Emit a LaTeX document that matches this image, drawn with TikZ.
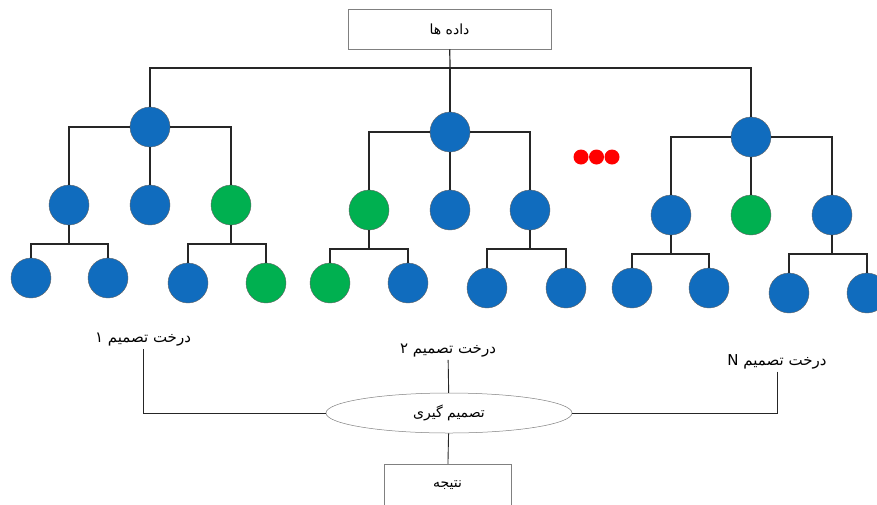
\documentclass[tikz,border=0pt]{standalone}
\usepackage{fontspec}
\usetikzlibrary{shapes.geometric}
\TeXXeTstate=1
\newfontfamily\arabicfont[Script=Arabic]{DejaVu Sans}
\definecolor{nblue}{RGB}{16,108,190}
\definecolor{ngreen}{RGB}{0,176,80}
\begin{document}
\begin{tikzpicture}[x=1pt,y=-1pt,
  nd/.style={circle, minimum size=40pt, inner sep=0pt, draw=black!60, line width=0.4pt},
  bl/.style={nd, fill=nblue},
  gr/.style={nd, fill=ngreen},
  reddot/.style={circle, minimum size=15pt, inner sep=0pt, fill=red},
  edge/.style={line width=1.2pt, black!85},
  link/.style={line width=0.9pt, black!85},
  gbox/.style={draw=black!50, line width=0.5pt, fill=white, inner sep=0pt, font=\arabicfont\fontsize{14}{16}\selectfont},
  lbl/.style={font=\arabicfont\fontsize{15}{17}\selectfont, inner sep=2pt}]
\useasboundingbox[fill=white] (0,0) rectangle (877,504);

% top box
\node[gbox, minimum width=203pt, minimum height=40pt] (d) at (449.5,29) {\beginR داده ها\endR};
\coordinate (t) at (450,68);

% tree 1
\node[bl] (r1) at (150,127) {};
\node[bl] (c11) at (69,205) {};
\node[bl] (c12) at (150,205) {};
\node[gr] (c13) at (231,205) {};
\coordinate (j11) at (69,244);
\coordinate (j13) at (231,244);
\node[bl] (g111) at (31,278) {};
\node[bl] (g112) at (108,278) {};
\node[bl] (g131) at (188,283) {};
\node[gr] (g132) at (266,283) {};

% tree 2
\node[bl] (r2) at (450,132) {};
\node[gr] (c21) at (369,210) {};
\node[bl] (c22) at (450,210) {};
\node[bl] (c23) at (530,210) {};
\coordinate (j21) at (369,249);
\coordinate (j23) at (530,249);
\node[gr] (g211) at (330,283) {};
\node[bl] (g212) at (408,283) {};
\node[bl] (g231) at (487,288) {};
\node[bl] (g232) at (566,288) {};

% dots
\node[reddot] (p1) at (581,157) {};
\node[reddot] (p2) at (596.5,157) {};
\node[reddot] (p3) at (612,157) {};

% tree 3
\node[bl] (r3) at (751,137) {};
\node[bl] (c31) at (671,215) {};
\node[gr] (c32) at (751,215) {};
\node[bl] (c33) at (832,215) {};
\coordinate (j31) at (671,254);
\coordinate (j33) at (832,254);
\node[bl] (g311) at (632,288) {};
\node[bl] (g312) at (709,288) {};
\node[bl] (g331) at (789,293) {};
\node[bl] (g332) at (867,293) {};

% top connectors
\draw[edge] (d) -- (t);
\draw[edge] (t) -| (r1);
\draw[edge] (t) -- (r2);
\draw[edge] (t) -| (r3);

% tree 1 edges
\draw[edge] (r1) -| (c11);
\draw[edge] (r1) -- (c12);
\draw[edge] (r1) -| (c13);
\draw[edge] (c11) -- (j11);
\draw[edge] (j11) -| (g111);
\draw[edge] (j11) -| (g112);
\draw[edge] (c13) -- (j13);
\draw[edge] (j13) -| (g131);
\draw[edge] (j13) -| (g132);

% tree 2 edges
\draw[edge] (r2) -| (c21);
\draw[edge] (r2) -- (c22);
\draw[edge] (r2) -| (c23);
\draw[edge] (c21) -- (j21);
\draw[edge] (j21) -| (g211);
\draw[edge] (j21) -| (g212);
\draw[edge] (c23) -- (j23);
\draw[edge] (j23) -| (g231);
\draw[edge] (j23) -| (g232);

% tree 3 edges
\draw[edge] (r3) -| (c31);
\draw[edge] (r3) -- (c32);
\draw[edge] (r3) -| (c33);
\draw[edge] (c31) -- (j31);
\draw[edge] (j31) -| (g311);
\draw[edge] (j31) -| (g312);
\draw[edge] (c33) -- (j33);
\draw[edge] (j33) -| (g331);
\draw[edge] (j33) -| (g332);

% labels
\node[lbl] (L1) at (143,340) {\beginR درخت تصمیم ۱\endR};
\node[lbl] (L2) at (448,351) {\beginR درخت تصمیم ۲\endR};
\node[lbl] (LN) at (777,362) {\beginR درخت تصمیم N\endR};

% decision ellipse and result
\node[gbox, ellipse, minimum width=246pt, minimum height=40pt] (e) at (449,413) {\beginR تصمیم گیری\endR};
\node[gbox, minimum width=127pt, minimum height=42pt] (res) at (447.5,485) {\beginR نتیجه\endR};

\draw[link] (L1) |- (e);
\draw[link] (L2) -- (e);
\draw[link] (LN) |- (e);
\draw[link] (e) -- (res);
\end{tikzpicture}
\end{document}
